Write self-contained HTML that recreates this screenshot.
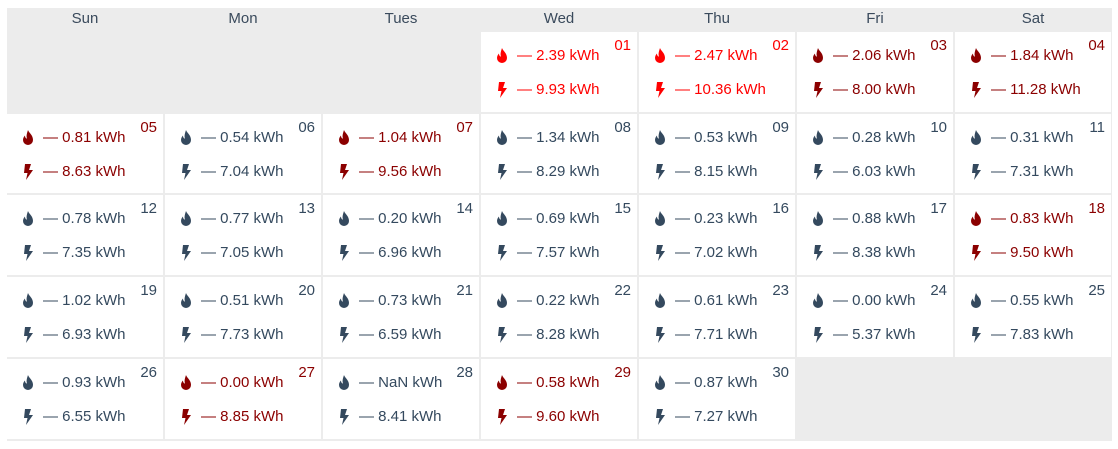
<!DOCTYPE html>
<html><head><meta charset="utf-8"><style>
body{margin:0;width:1118px;height:449px;background:#fff;font-family:"Liberation Sans",sans-serif;position:relative;overflow:hidden}
#cal{position:absolute;left:7px;top:8px;width:1105px;height:433px;background:#ececec}
.hd{position:absolute;top:0;height:22px;line-height:22px;text-align:center;color:#3a4a5c;font-size:15px}
.cell{position:absolute;background:#fff;color:#34495e;font-size:15px}
.cell.hot{color:#8b0000}.cell.top{color:#f00}
.num{position:absolute;right:6px;top:5px}
.ln{position:absolute;left:14px;white-space:nowrap;display:flex;align-items:center}
.ln svg{width:14px;height:16px;margin-right:8px;fill:currentColor}
</style></head><body>
<div id="cal"></div>
<script>
const days=['Sun','Mon','Tues','Wed','Thu','Fri','Sat'];
const gas=['2.39','2.47','2.06','1.84','0.81','0.54','1.04','1.34','0.53','0.28','0.31','0.78','0.77','0.20','0.69','0.23','0.88','0.83','1.02','0.51','0.73','0.22','0.61','0.00','0.55','0.93','0.00','NaN','0.58','0.87'];
const elec=['9.93','10.36','8.00','11.28','8.63','7.04','9.56','8.29','8.15','6.03','7.31','7.35','7.05','6.96','7.57','7.02','8.38','9.50','6.93','7.73','6.59','8.28','7.71','5.37','7.83','6.55','8.85','8.41','9.60','7.27'];
const status=['top','top','hot','hot','hot','','hot','','','','','','','','','','','hot','','','','','','','','','hot','','hot',''];
const cal=document.getElementById('cal');
const colX=i=>i*158, colW=156;
const rowY=[24,106,187,269,351], rowH=[80,79,80,80,80];
days.forEach((d,i)=>{const h=document.createElement('div');h.className='hd';


h.style.left=colX(i)+'px';h.style.width=colW+'px';h.textContent=d;cal.appendChild(h);});
const flame='<svg viewBox="0 0 14 16"><path d="M7 0C8 3 12 5 12 10a5 5 0 0 1-10 0c0-2 1-3.5 2-4.5 0 2 1 3 2 3C5 6 6 3 7 0z"/></svg>';
const bolt='<svg viewBox="0 0 14 16"><path d="M4 0h6L8 6h4L5 16l1.5-7H3z"/></svg>';
for(let k=0;k<30;k++){const p=k+3,r=Math.floor(p/7),c=p%7;
const e=document.createElement('div');e.className='cell '+status[k];


e.style.left=colX(c)+'px';e.style.top=rowY[r]+'px';e.style.width=colW+'px';e.style.height=rowH[r]+'px';
const n=String(k+1).padStart(2,'0');
e.innerHTML='<span class="num">'+n+'</span>'+
'<div class="ln" style="top:15px">'+flame+'— '+gas[k]+' kWh</div>'+
'<div class="ln" style="top:49px">'+bolt+'— '+elec[k]+' kWh</div>';
cal.appendChild(e);}
</script>
</body></html>
